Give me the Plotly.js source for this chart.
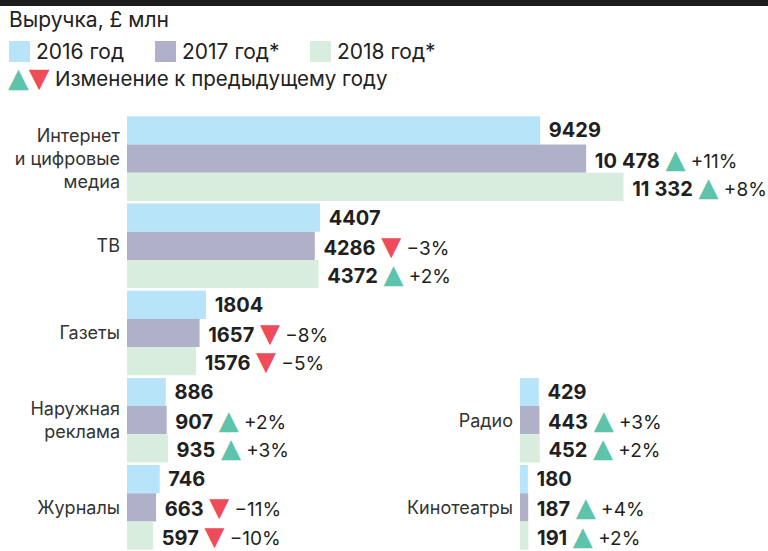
<!DOCTYPE html>
<html>
<head>
<meta charset="utf-8">
<script src="https://cdn.plot.ly/plotly-3.0.1.min.js"></script>
<style>html,body{margin:0;padding:0;background:#fff;}#chart{width:768px;height:551px;}</style>
</head>
<body>
<div id="chart"></div>
<script>
// ---- data ----
const categoriesLeft = ['Интернет<br>и цифровые<br>медиа', 'ТВ', 'Газеты', 'Наружная<br>реклама', 'Журналы'];
const v2016Left = [9429, 4407, 1804, 886, 746];
const v2017Left = [10478, 4286, 1657, 907, 663];
const v2018Left = [11332, 4372, 1576, 935, 597];
const chg2017Left = [11, -3, -8, 2, -11];
const chg2018Left = [8, 2, -5, 3, -10];

const categoriesRight = ['Радио', 'Кинотеатры'];
const v2016Right = [429, 180];
const v2017Right = [443, 187];
const v2018Right = [452, 191];
const chg2017Right = [3, 4];
const chg2018Right = [2, 2];

const seriesNames = ['2016 год', '2017 год*', '2018 год*'];
const titleText = 'Выручка, £ млн';
const changeLegendText = 'Изменение к предыдущему году';

// ---- style ----
const colors = ['#b7e4f9', '#b0b1c9', '#d9eddf'];
const teal = '#5ec3ab';
const red = '#ef4c5b';
const FONT = 'Inter, "DejaVu Sans", sans-serif';
const W = 768, H = 551;
const pxPerUnit = 0.04382;
const xLeftStart = 127, xRightStart = 520;
const plotTop = 115;

function fmt(v) {
  return v >= 10000 ? String(v).replace(/\B(?=(\d{3})+(?!\d))/g, '\u2005') : String(v);
}
function label(v, c) {
  let s = '\u00a0<b>' + fmt(v) + '</b>';
  if (c !== null && c !== undefined) {
    const up = c > 0;
    s += '\u00a0<span style="color:' + (up ? teal : red) + ';font-size:26px;font-family:DejaVu Sans">' +
         (up ? '▲' : '▼') + '</span><span style="font-size:19px">\u00a0' + (up ? '+' : '−') + Math.abs(c) + '%</span>';
  }
  return s;
}

function mkTrace(cats, vals, chg, i, xa, ya) {
  return {
    type: 'bar', orientation: 'h',
    y: cats, x: vals,
    name: seriesNames[i],
    marker: {color: colors[i], line: {width: 0}},
    text: vals.map((v, k) => label(v, chg ? chg[k] : null)),
    textposition: 'outside',
    constraintext: 'none',
    cliponaxis: false,
    textfont: {family: FONT, size: 20, color: '#231f20'},
    hoverinfo: 'x+y',
    xaxis: xa, yaxis: ya,
    showlegend: false
  };
}

const data = [
  mkTrace(categoriesLeft, v2016Left, null, 0, 'x', 'y'),
  mkTrace(categoriesLeft, v2017Left, chg2017Left, 1, 'x', 'y'),
  mkTrace(categoriesLeft, v2018Left, chg2018Left, 2, 'x', 'y'),
  mkTrace(categoriesRight, v2016Right, null, 0, 'x2', 'y2'),
  mkTrace(categoriesRight, v2017Right, chg2017Right, 1, 'x2', 'y2'),
  mkTrace(categoriesRight, v2018Right, chg2018Right, 2, 'x2', 'y2')
];

const groupH = (H - plotTop) / 5;
const px = x => x / W;
const py = y => 1 - y / H;

const shapes = [
  {type: 'rect', xref: 'paper', yref: 'paper', x0: 0, x1: 1, y0: py(6), y1: 1, fillcolor: '#1c1c1c', line: {width: 0}},
];
const legendX = [9, 155, 310];
legendX.forEach((lx, i) => {
  shapes.push({type: 'rect', xref: 'paper', yref: 'paper', x0: px(lx), x1: px(lx + 21), y0: py(62), y1: py(41),
    fillcolor: colors[i], line: {width: 0}});
});

const annotations = [
  {xref: 'paper', yref: 'paper', x: px(7), y: py(20), xanchor: 'left', yanchor: 'middle', showarrow: false,
   text: titleText, font: {family: FONT, size: 21, color: '#222'}},
  {xref: 'paper', yref: 'paper', x: px(53), y: py(79), xanchor: 'left', yanchor: 'middle', showarrow: false,
   text: changeLegendText, font: {family: FONT, size: 20.5, color: '#222'}},
  {xref: 'paper', yref: 'paper', x: px(6), y: py(78), xanchor: 'left', yanchor: 'middle', showarrow: false,
   text: '<span style="color:' + teal + '">▲</span><span style="color:' + red + '">▼</span>',
   font: {family: 'DejaVu Sans', size: 27, color: teal}}
];
legendX.forEach((lx, i) => {
  annotations.push({xref: 'paper', yref: 'paper', x: px(lx + 25), y: py(51), xanchor: 'left', yanchor: 'middle',
    showarrow: false, text: seriesNames[i], font: {family: FONT, size: 21, color: '#222'}});
});

const axX = {showgrid: false, zeroline: false, showticklabels: false, ticks: '', showline: false, fixedrange: true};
const axY = {type: 'category', autorange: 'reversed', showgrid: false, zeroline: false, showline: false, ticks: '',
  ticklabelstandoff: 6, automargin: false, tickfont: {family: FONT, size: 18, color: '#333'}, fixedrange: true};

const layout = {
  width: W, height: H,
  margin: {l: 0, r: 0, t: 0, b: 0, pad: 0},
  paper_bgcolor: '#fff', plot_bgcolor: 'rgba(0,0,0,0)',
  barmode: 'group', bargap: 0.03, bargroupgap: 0,
  showlegend: false,
  xaxis: Object.assign({}, axX, {domain: [px(xLeftStart), 1], range: [0, (W - xLeftStart) / pxPerUnit], anchor: 'y'}),
  yaxis: Object.assign({}, axY, {domain: [0, py(plotTop)], anchor: 'x'}),
  xaxis2: Object.assign({}, axX, {domain: [px(xRightStart), 1], range: [0, (W - xRightStart) / pxPerUnit], anchor: 'y2'}),
  yaxis2: Object.assign({}, axY, {domain: [0, 2 * groupH / H], anchor: 'x2'}),
  shapes: shapes,
  annotations: annotations,
  font: {family: FONT}
};

Plotly.newPlot('chart', data, layout, {displayModeBar: false, staticPlot: true});
</script>
</body>
</html>
